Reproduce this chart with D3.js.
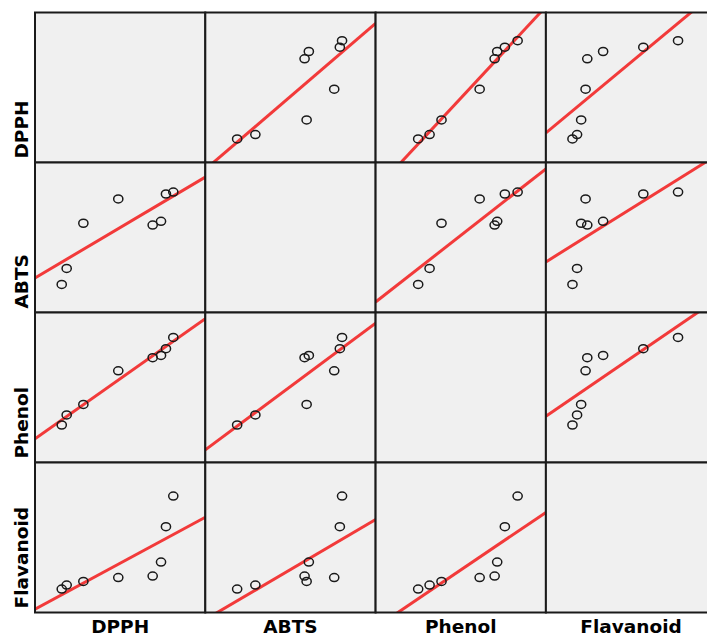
<!DOCTYPE html>
<meta charset="utf-8">
<style>
  body { margin: 0; background: #fff; }
  svg { display: block; }
  .label { font-family: "DejaVu Sans", sans-serif; font-weight: bold; font-size: 18.5px; fill: #000; }
</style>
<svg width="707" height="637"></svg>
<script src="https://cdn.jsdelivr.net/npm/d3@7"></script>
<script>

var variables = ["DPPH", "ABTS", "Phenol", "Flavanoid"];

// values per sample, one array per variable (same order of samples)
var dpph      = [15.7, 18.6, 28.4, 48.9, 69.1, 74.0, 76.9, 81.2];
var abts      = [18.7, 29.4, 59.5, 75.7, 58.3, 60.8, 79.0, 80.3];
var phenol    = [25.0, 31.7, 38.7, 61.1, 69.9, 71.4, 75.9, 83.4];
var flavanoid = [15.6, 18.3, 20.7, 23.3, 24.3, 33.6, 57.2, 77.6];

var axisDomain = [0, 100];

var columns = [dpph, abts, phenol, flavanoid];

var svg = d3.select("svg"),
    margin = {top: 12.5, left: 35},
    cellW = 170.3,
    cellH = 150,
    n = variables.length;

var x = d3.scaleLinear().domain(axisDomain).range([0, cellW]);
var y = d3.scaleLinear().domain(axisDomain).range([cellH, 0]);

svg.append("defs").append("clipPath")
    .attr("id", "cellClip")
  .append("rect")
    .attr("width", cellW)
    .attr("height", cellH);

var g = svg.append("g")
    .attr("transform", "translate(" + margin.left + "," + margin.top + ")");

/*
 * Least squares fit of yv on xv.
 */
function fit(xv, yv) {
  var mx = d3.mean(xv), my = d3.mean(yv), sxy = 0, sxx = 0;
  for (var i = 0; i < xv.length; ++i) {
    sxy += (xv[i] - mx) * (yv[i] - my);
    sxx += (xv[i] - mx) * (xv[i] - mx);
  }
  var b = sxy / sxx;
  return {a: my - b * mx, b: b};
}

var cells = [];
for (var r = 0; r < n; ++r)
  for (var c = 0; c < n; ++c) cells.push({row: r, col: c});

var cell = g.selectAll(".cell")
  .data(cells)
  .enter().append("g")
    .attr("class", "cell")
    .attr("transform", function(d) { return "translate(" + (d.col * cellW) + "," + (d.row * cellH) + ")"; });

cell.append("rect")
    .attr("width", cellW)
    .attr("height", cellH)
    .attr("fill", "#f0f0f0");

var plots = cell.filter(function(d) { return d.row !== d.col; })
  .append("g")
    .attr("clip-path", "url(#cellClip)");

plots.each(function(d) {
  var xv = columns[d.col], yv = columns[d.row];
  var p = d3.select(this);
  var f = fit(xv, yv);

  p.append("line")
      .attr("x1", x(axisDomain[0]))
      .attr("y1", y(f.a + f.b * axisDomain[0]))
      .attr("x2", x(axisDomain[1]))
      .attr("y2", y(f.a + f.b * axisDomain[1]))
      .attr("stroke", "#f23a3a")
      .attr("stroke-width", 3);

  p.selectAll("ellipse")
    .data(d3.range(xv.length))
    .enter().append("ellipse")
      .attr("cx", function(i) { return x(xv[i]); })
      .attr("cy", function(i) { return y(yv[i]); })
      .attr("rx", 4.6)
      .attr("ry", 4)
      .attr("fill", "none")
      .attr("stroke", "#1a1a1a")
      .attr("stroke-width", 1.5);
});

// cell borders
cell.append("rect")
    .attr("width", cellW)
    .attr("height", cellH)
    .attr("fill", "none")
    .attr("stroke", "#1a1a1a")
    .attr("stroke-width", 2);

// row labels
svg.selectAll(".rowLabel")
  .data(variables)
  .enter().append("text")
    .attr("class", "label rowLabel")
    .attr("text-anchor", "start")
    .attr("transform", function(d, i) {
      return "translate(28," + (margin.top + (i + 1) * cellH - 4) + ")rotate(-90)";
    })
    .text(function(d) { return d; });

// column labels
svg.selectAll(".colLabel")
  .data(variables)
  .enter().append("text")
    .attr("class", "label colLabel")
    .attr("text-anchor", "middle")
    .attr("x", function(d, i) { return margin.left + (i + 0.5) * cellW; })
    .attr("y", 633)
    .text(function(d) { return d; });
</script>
